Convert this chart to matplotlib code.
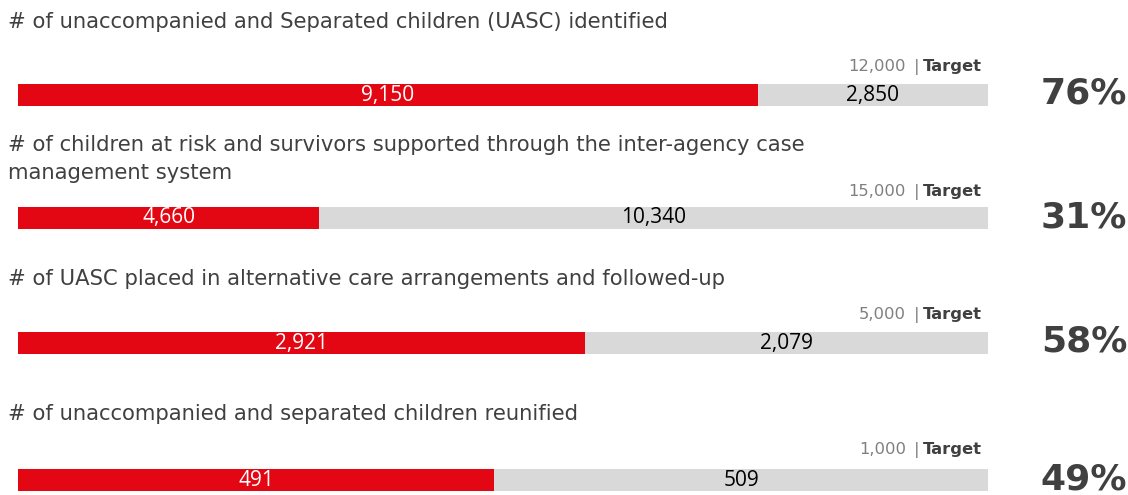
import matplotlib.pyplot as plt

titles = ["# of unaccompanied and Separated children (UASC) identified",
          "# of children at risk and survivors supported through the inter-agency case\nmanagement system",
          "# of UASC placed in alternative care arrangements and followed-up",
          "# of unaccompanied and separated children reunified"]
achieved = [9150, 4660, 2921, 491]
targets = [12000, 15000, 5000, 1000]
percents = ["76%", "31%", "58%", "49%"]

W, H = 1128, 495
red = '#E30613'
grey = '#D9D9D9'
dark = '#404040'

# pixel positions of each row (bar top, title baseline, target baseline)
bar_y = [84, 207, 332, 469]
title_y = [28, 151, 285, 420]
target_y = [71, 196, 319, 454]
bar_h = 22

fig = plt.figure(figsize=(W / 100, H / 100), dpi=100)

for i in range(4):
    ax = fig.add_axes([18 / W, 1 - (bar_y[i] + bar_h) / H, 970 / W, bar_h / H])
    remaining = targets[i] - achieved[i]
    ax.barh(0, achieved[i], height=1, color=red)
    ax.barh(0, remaining, left=achieved[i], height=1, color=grey)
    ax.set_xlim(0, targets[i])
    ax.set_ylim(-0.5, 0.5)
    ax.axis('off')
    ax.text(achieved[i] / 2, 0, f"{achieved[i]:,}", ha='center', va='center',
            color='white', fontsize=15, family='Open Sans')
    ax.text(achieved[i] + remaining / 2, 0, f"{remaining:,}", ha='center', va='center',
            color='black', fontsize=15, family='Open Sans')

    for k, line in enumerate(titles[i].split('\n')):
        fig.text(8 / W, 1 - (title_y[i] + 28 * k) / H, line, ha='left', va='baseline',
                 fontsize=15.2, color=dark, family='DejaVu Sans')
    fig.text(906 / W, 1 - target_y[i] / H, f"{targets[i]:,}", ha='right', va='baseline',
             fontsize=11.8, color='#7F7F7F')
    fig.text(914 / W, 1 - target_y[i] / H, "|", ha='left', va='baseline',
             fontsize=11.8, color='#7F7F7F')
    fig.text(923 / W, 1 - target_y[i] / H, "Target", ha='left', va='baseline',
             fontsize=11.8, color=dark, fontweight='bold')
    fig.text(1084 / W, 1 - (bar_y[i] + bar_h - 2) / H, percents[i], ha='center', va='baseline',
             fontsize=26, color=dark, fontweight='bold', family='DejaVu Sans')

fig.savefig('out.png', dpi=100)
